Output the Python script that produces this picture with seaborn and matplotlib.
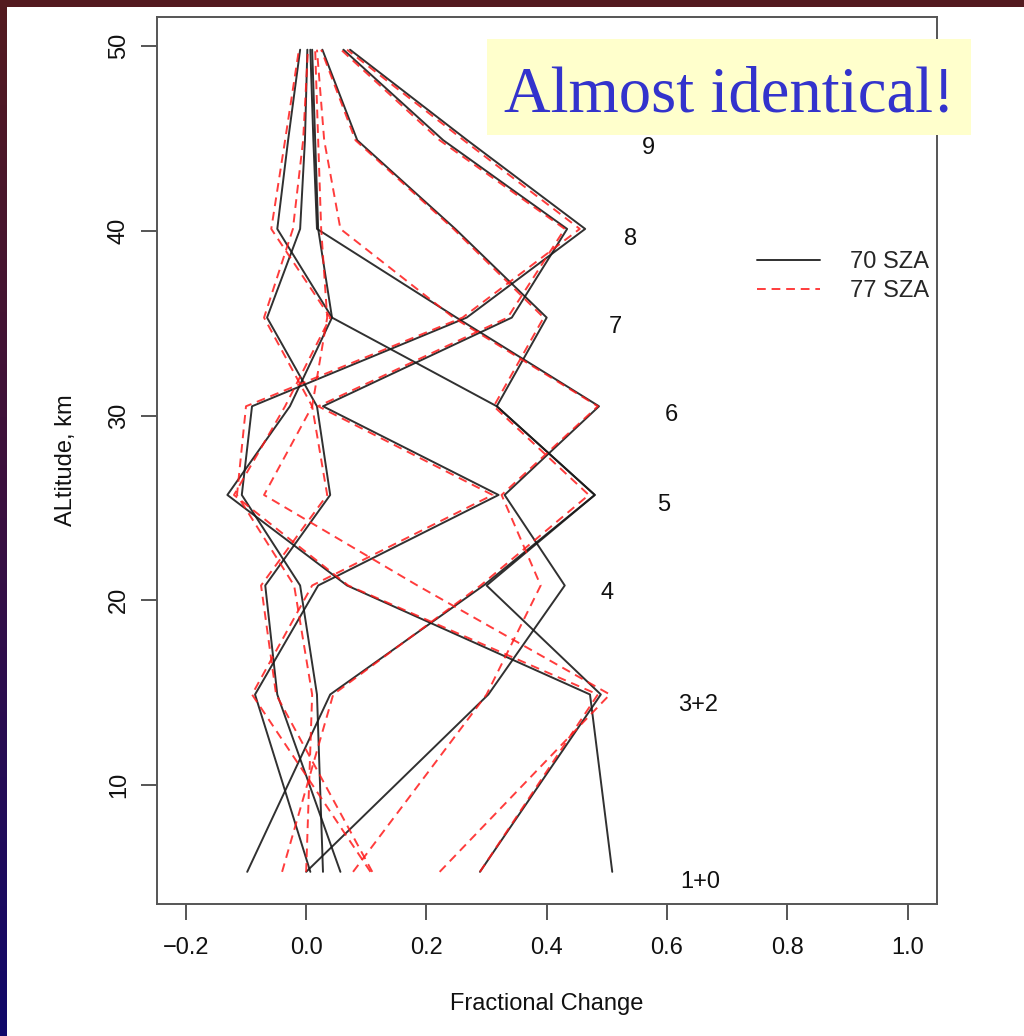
import numpy as np
import matplotlib
matplotlib.use("Agg")
import matplotlib.pyplot as plt
import seaborn as sns
from matplotlib.patches import Rectangle
from matplotlib.lines import Line2D
from matplotlib.colors import LinearSegmentedColormap

# ---------------- data ----------------
altitude = [5.3, 14.9, 20.8, 25.7, 30.5, 35.3, 40.1, 44.9, 49.8]

# 70 SZA (solid black)
sza70_p = [0.509, 0.472, 0.068, -0.131, -0.027, 0.043, -0.048, -0.030, -0.010]
sza70_q = [0.057, -0.048, -0.068, 0.040, 0.018, -0.065, -0.010, -0.002, 0.002]
sza70_a = [0.007, -0.085, 0.020, 0.320, 0.028, 0.342, 0.434, 0.228, 0.062]
sza70_b = [0.028, 0.018, -0.010, -0.107, -0.090, 0.267, 0.464, 0.268, 0.073]
sza70_c = [-0.098, 0.040, 0.295, 0.480, 0.317, 0.400, 0.248, 0.085, 0.027]
sza70_d = [0.000, 0.303, 0.430, 0.330, 0.487, 0.250, 0.018, 0.012, 0.007]
sza70_e = [0.289, 0.490, 0.300, 0.480, 0.317, 0.043, 0.020, 0.015, 0.010]

# 77 SZA (dashed red)
sza77_p = [0.289, 0.485, 0.070, -0.120, -0.035, 0.040, -0.058, -0.035, -0.012]
sza77_q = [0.110, -0.050, -0.075, 0.035, 0.010, -0.070, -0.022, -0.005, 0.003]
sza77_a = [0.107, -0.090, 0.010, 0.310, 0.020, 0.335, 0.430, 0.222, 0.058]
sza77_b = [0.000, 0.010, -0.020, -0.115, -0.100, 0.260, 0.455, 0.262, 0.068]
sza77_c = [-0.040, 0.045, 0.290, 0.470, 0.312, 0.395, 0.245, 0.082, 0.025]
sza77_d = [0.078, 0.300, 0.390, 0.325, 0.485, 0.245, 0.057, 0.030, 0.018]
sza77_e = [0.222, 0.505, 0.185, -0.070, 0.010, 0.035, 0.025, 0.020, 0.015]

sza70 = [sza70_p, sza70_q, sza70_a, sza70_b, sza70_c, sza70_d, sza70_e]
sza77 = [sza77_p, sza77_q, sza77_a, sza77_b, sza77_c, sza77_d, sza77_e]

layer_names = ["9", "8", "7", "6", "5", "4", "3+2", "1+0"]
layer_x = [0.569, 0.539, 0.514, 0.608, 0.595, 0.500, 0.652, 0.655]
layer_y = [44.48, 39.55, 34.79, 30.02, 25.15, 20.39, 14.33, 4.75]

x_ticks = [-0.2, 0.0, 0.2, 0.4, 0.6, 0.8, 1.0]
y_ticks = [10, 20, 30, 40, 50]
legend_labels = ["70 SZA", "77 SZA"]

# ---------------- figure ----------------
W, H = 1024, 1036
sns.set_style("white")
plt.rcParams["font.family"] = ["Liberation Sans", "DejaVu Sans"]
fig = plt.figure(figsize=(W / 100, H / 100), dpi=100, facecolor="white")

# slide frame: dark red top bar, gradient left bar
bar = fig.add_axes([0, 0, 7 / W, 1])
grad = np.linspace(0, 1, 256).reshape(-1, 1)
cm = LinearSegmentedColormap.from_list("frame", ["#531a1f", "#3a1040", "#10086a"])
bar.imshow(grad, aspect="auto", cmap=cm, extent=[0, 1, 0, 1], origin="upper")
bar.set_axis_off()
fig.patches.append(Rectangle((0, 1 - 7 / H), 1, 7 / H, transform=fig.transFigure,
                             facecolor="#531a1f", edgecolor="none", zorder=5))

ax = fig.add_axes([157 / W, 1 - 904 / H, (937 - 157) / W, (904 - 17) / H])

RED = "#ff1a1a"
DASH = (0, (4.5, 3))
for vals in sza70:
    sns.lineplot(x=vals, y=altitude, sort=False, estimator=None, ax=ax,
                 color="#1a1a1a", lw=1.4, alpha=0.9)
for vals in sza77:
    sns.lineplot(x=vals, y=altitude, sort=False, estimator=None, ax=ax,
                 color=RED, lw=1.4, alpha=0.85, linestyle=DASH)

for name, lx, ly in zip(layer_names, layer_x, layer_y):
    ax.text(lx, ly, name, ha="center", va="center", fontsize=17, color="#111111")

ax.set_xlim(-0.248, 1.049)
ax.set_ylim(3.56, 51.57)
ax.set_xticks(x_ticks)
ax.set_xticklabels(["\u22120.2" if t < 0 else f"{t:.1f}" for t in x_ticks])
ax.set_yticks(y_ticks)
ax.set_yticklabels([str(t) for t in y_ticks], rotation=90, va="center")
for s in ax.spines.values():
    s.set_color("#555555")
    s.set_linewidth(1.4)
ax.tick_params(axis="both", direction="out", length=11.5, width=1.4, color="#555555",
               labelsize=17, labelcolor="#111111", bottom=True, left=True)
ax.tick_params(axis="x", pad=12)
ax.tick_params(axis="y", pad=8)
ax.set_xlabel("Fractional Change", fontsize=17, labelpad=25, color="#111111")
ax.set_ylabel("ALtitude, km", fontsize=17, labelpad=22, color="#111111")
ax.grid(False)

# legend (R-like, no frame)
handles = [Line2D([], [], color="#1a1a1a", lw=1.4, alpha=0.9),
           Line2D([], [], color=RED, lw=1.4, alpha=0.85, linestyle=DASH)]
ax.legend(handles, legend_labels, loc="upper left",
          bbox_to_anchor=((757 - 157) / 780, 1 - (251 - 17) / 887),
          frameon=False, fontsize=17, handlelength=2.65, handletextpad=1.3,
          labelspacing=0.31, borderpad=0, borderaxespad=0)

# callout
fig.patches.append(Rectangle((487 / W, 1 - 135 / H), (971 - 487) / W, (135 - 39) / H,
                             transform=fig.transFigure, facecolor="#ffffcc",
                             edgecolor="none", zorder=10))
fig.text(729 / W, 1 - 112 / H, "Almost identical!", ha="center", va="baseline",
         fontsize=46.5, color="#3333cc", family=["Liberation Serif", "DejaVu Serif"],
         zorder=11)

fig.savefig("out.png", dpi=100, facecolor="white")
